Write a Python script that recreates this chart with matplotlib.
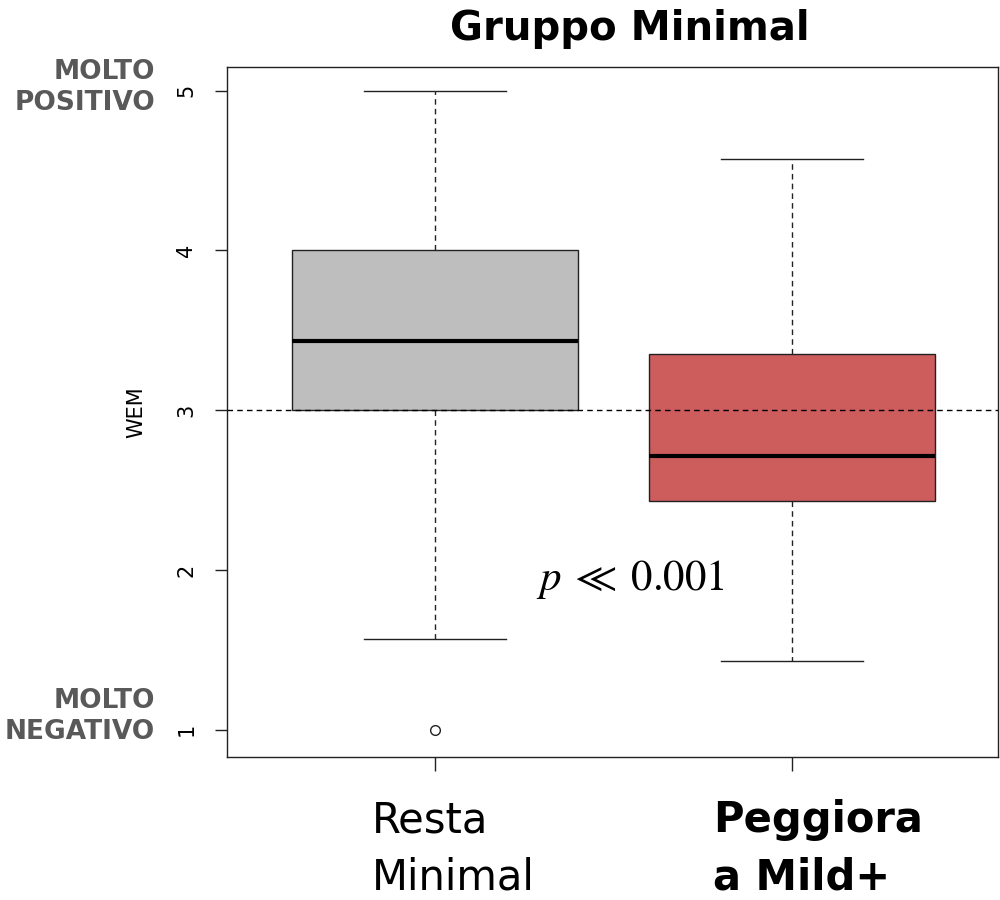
"""Gruppo Minimal - boxplot WEM
"""
import matplotlib.pyplot as plt
import matplotlib.transforms as mtransforms

# dati
groups = ["Resta\nMinimal", "Peggiora\na Mild+"]
q1 = [3.0, 2.43]
median = [3.43, 2.71]
q3 = [4.0, 3.35]
whisker_low = [1.57, 1.43]
whisker_high = [5.0, 4.57]
outliers = [[1.0], []]
box_colors = ["#BEBEBE", "#CD5C5C"]
label_weights = ["normal", "bold"]
y_ticks = [1, 2, 3, 4, 5]
p_text = r"$p\;\ll\;0.001$"

plt.rcParams["mathtext.fontset"] = "stix"

fig = plt.figure(figsize=(10, 9), dpi=100)
ax = fig.add_axes([0.227, 0.159, 0.771, 0.767])

stats = [
    dict(q1=a, med=m, q3=b, whislo=lo, whishi=hi, fliers=f, label="")
    for a, m, b, lo, hi, f in zip(q1, median, q3, whisker_low, whisker_high, outliers)
]
dash = (0, (4, 3))
bp = ax.bxp(
    stats,
    positions=[1, 2],
    widths=0.8,
    capwidths=0.4,
    patch_artist=True,
    boxprops=dict(edgecolor="#222222", linewidth=1.0),
    medianprops=dict(color="black", linewidth=3.0),
    whiskerprops=dict(color="#222222", linewidth=1.0, linestyle=dash),
    capprops=dict(color="#222222", linewidth=1.0),
    flierprops=dict(marker="o", markerfacecolor="none", markeredgecolor="#222222",
                    markersize=7, markeredgewidth=1.0),
)
for patch, c in zip(bp["boxes"], box_colors):
    patch.set_facecolor(c)

# linea di riferimento a 3
ax.axhline(3, color="black", linewidth=1.0, linestyle=dash, zorder=5)

ax.set_xlim(0.417, 2.577)
ax.set_ylim(0.83, 5.15)
ax.set_yticks(y_ticks)
ax.set_yticklabels([str(t) for t in y_ticks], rotation=90, va="center", fontsize=15)
ax.set_xticks([1, 2])
ax.set_xticklabels(["", ""])
ax.tick_params(axis="y", length=9, width=1, pad=13, color="#222222")
ax.tick_params(axis="x", length=10, width=1, color="#222222")
for s in ax.spines.values():
    s.set_linewidth(1.0)
    s.set_color("#222222")
ax.set_ylabel("WEM", fontsize=15, labelpad=22)

# etichette dei gruppi sotto l'asse
trans_x = mtransforms.blended_transform_factory(ax.transData, fig.transFigure)
for x0, name, w in zip([0.824, 1.779], groups, label_weights):
    ax.text(x0, 0.057, name, transform=trans_x, ha="left", va="center",
            fontsize=30, fontweight=w, linespacing=1.45, multialignment="left")

# etichette estreme della scala
trans_y = mtransforms.blended_transform_factory(fig.transFigure, ax.transData)
ax.text(0.155, 5.02, "MOLTO\nPOSITIVO", transform=trans_y, ha="right", va="center",
        fontsize=19, fontweight="bold", color="#595959", linespacing=1.25,
        multialignment="right")
ax.text(0.155, 1.08, "MOLTO\nNEGATIVO", transform=trans_y, ha="right", va="center",
        fontsize=19, fontweight="bold", color="#595959", linespacing=1.25,
        multialignment="right")

ax.text(1.546, 1.94, p_text, ha="center", va="center", fontsize=31)

fig.text(0.63, 0.956, "Gruppo Minimal", ha="center", va="baseline",
         fontsize=29, fontweight="bold")

fig.savefig("out.png", dpi=100)
